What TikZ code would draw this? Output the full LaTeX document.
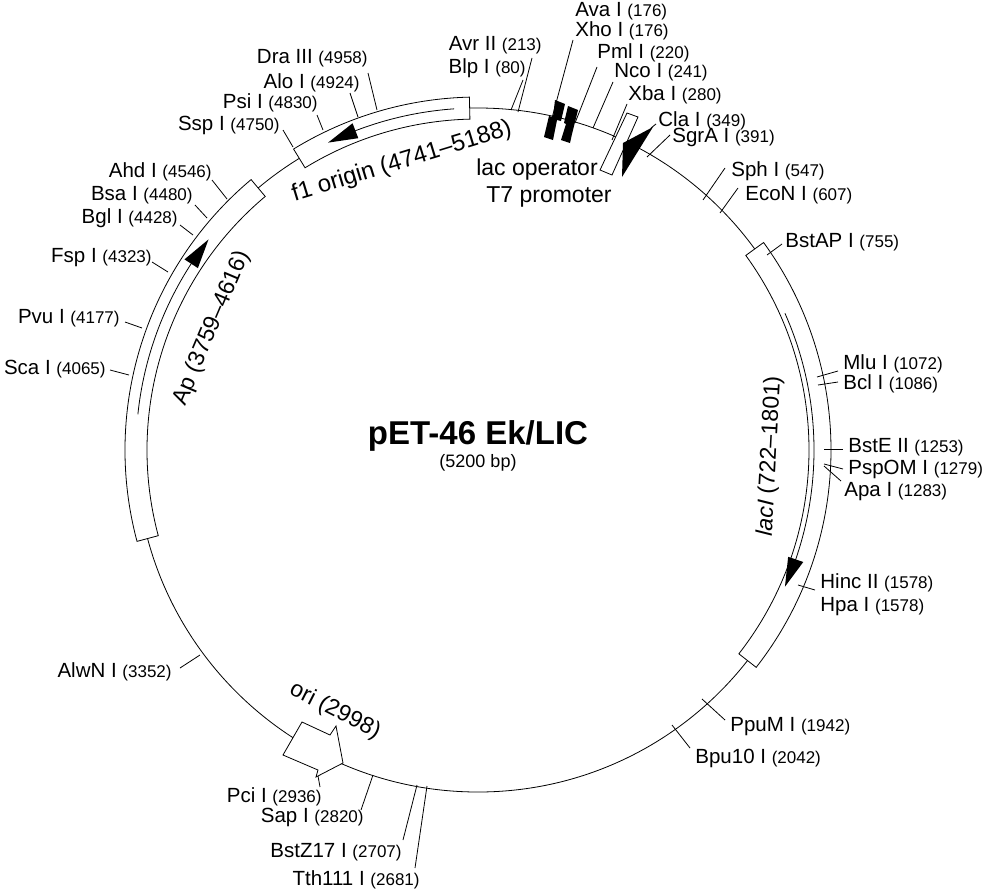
\documentclass[tikz,border=0pt]{standalone}
\usepackage{fontspec}
\setmainfont{Liberation Sans}
\begin{document}
\begin{tikzpicture}[x=1pt,y=-1pt,line width=0.8pt,
  lbl/.style={inner sep=0pt,font=\fontsize{20.5}{21}\selectfont},
  feat/.style={inner sep=0pt,font=\fontsize{23}{24}\selectfont},
  fbox/.style={draw,fill=white,line width=0.8pt}]
\useasboundingbox (0,0) rectangle (987,889);
\newcommand{\nm}[2]{#1 {\fontsize{17}{18}\selectfont(#2)}}
\newcommand{\site}[9]{%
  \coordinate (p#1) at (#2,#3);\coordinate (q#1) at (#4,#5);
  \node[lbl,anchor=#6] (n#1) at (#7,#8) {#9};
  \draw (p#1) -- (q#1);}
\def\R{342}
\begin{scope}[shift={(478,450)}]
  \draw (0,0) circle[radius=\R];
  % lacI box 54 -> 128
  \draw[fbox] (-36:353) arc[start angle=-36,end angle=38,radius=353] -- (38:331) arc[start angle=38,end angle=-36,radius=331] -- cycle;
  \draw (-24:336) arc[start angle=-24,end angle=20,radius=336];
  \fill (24:336) -- (19:328) -- (19:344) -- cycle;
  % Ap box 255 -> 320
  \draw[fbox] (165:353) arc[start angle=165,end angle=230,radius=353] -- (230:331) arc[start angle=230,end angle=165,radius=331] -- cycle;
  \draw (186:\R) arc[start angle=186,end angle=214,radius=\R];
  \fill (218:\R) -- (213:334) -- (213:350) -- cycle;
  % f1 box 328.5 -> 358.6
  \draw[fbox] (238.5:353) arc[start angle=238.5,end angle=268.6,radius=353] -- (268.6:331) arc[start angle=268.6,end angle=238.5,radius=331] -- cycle;
  \draw (266:\R) arc[start angle=266,end angle=248,radius=\R];
  \fill (244:\R) -- (249:334) -- (249:350) -- cycle;
\end{scope}
% ori arrow
\draw[fbox] (302,722) -- (330,735) -- (336,726) -- (343,763) -- (316,777) -- (318,770) -- (283,755) -- cycle;
% top elements
\fill (555,100) -- (565,104) -- (561,121) -- (557,120) -- (553,140) -- (544,137) -- (549,116) -- (553,117) -- cycle;
\fill (568,106) -- (578,110) -- (572,134) -- (570,143) -- (561,140) -- (566,124) -- (564,123) -- cycle;
\draw[fbox] (627,113) -- (638,117) -- (612,175) -- (600,170) -- cycle;
\fill (653,127) -- (623,143) -- (622,177) -- cycle;
% sites
\site{blp}{511}{110}{523}{80}{east}{526}{68}{\nm{Blp I}{80}}
\site{avr}{518}{112}{532}{58}{east}{542}{45}{\nm{Avr II}{213}}
\site{xho}{552}{118}{573}{40}{west}{575}{31}{\nm{Xho I}{176}}
\node[lbl,anchor=west] (nava) at (575,11) {\nm{Ava I}{176}};
\site{pml}{575}{123}{597}{67}{west}{597}{53}{\nm{Pml I}{220}}
\site{nco}{593}{128}{613}{82}{west}{614}{72}{\nm{Nco I}{241}}
\site{xba}{612}{140}{627}{104}{west}{628}{95}{\nm{Xba I}{280}}
\site{cla}{651}{128}{656}{124}{west}{658}{121}{\nm{Cla I}{349}}
\site{sgr}{647}{157}{670}{135}{west}{672}{137}{\nm{SgrA I}{391}}
\site{sph}{703}{200}{725}{168}{west}{731}{171}{\nm{Sph I}{547}}
\site{eco}{720}{213}{738}{188}{west}{745}{195}{\nm{EcoN I}{607}}
\site{bap}{767}{255}{782}{244}{west}{785}{242}{\nm{BstAP I}{755}}
\site{mlu}{817}{377}{838}{371}{west}{843}{364}{\nm{Mlu I}{1072}}
\site{bcl}{818}{385}{838}{382}{west}{843}{384}{\nm{Bcl I}{1086}}
\site{bse}{824}{449}{843}{449}{west}{848}{447}{\nm{BstE II}{1253}}
\site{psp}{824}{464}{843}{469}{west}{848}{469}{\nm{PspOM I}{1279}}
\site{apa}{824}{466}{841}{481}{west}{844}{492}{\nm{Apa I}{1283}}
\site{hin}{798}{585}{815}{590}{west}{820}{583}{\nm{Hinc II}{1578}}
\node[lbl,anchor=west] (nhpa) at (820,607) {\nm{Hpa I}{1578}};
\site{ppu}{702}{699}{725}{720}{west}{730}{727}{\nm{PpuM I}{1942}}
\site{bpu}{672}{725}{690}{748}{west}{695}{758}{\nm{Bpu10 I}{2042}}
\site{tth}{427}{786}{415}{868}{east}{420}{880}{\nm{Tth111 I}{2681}}
\site{bz}{417}{785}{403}{840}{east}{402}{852}{\nm{BstZ17 I}{2707}}
\site{sap}{373}{775}{361}{810}{east}{364}{817}{\nm{Sap I}{2820}}
\site{pci}{318}{776}{320}{787}{east}{322}{797}{\nm{Pci I}{2936}}
\site{alw}{200}{655}{180}{668}{east}{172}{672}{\nm{AlwN I}{3352}}
\site{sca}{129}{375}{110}{370}{east}{106}{369}{\nm{Sca I}{4065}}
\site{pvu}{142}{328}{125}{322}{east}{120}{318}{\nm{Pvu I}{4177}}
\site{fsp}{168}{272}{152}{262}{east}{152}{258}{\nm{Fsp I}{4323}}
\site{bgl}{193}{235}{180}{225}{east}{178}{218}{\nm{Bgl I}{4428}}
\site{bsa}{207}{218}{195}{205}{east}{193}{195}{\nm{Bsa I}{4480}}
\site{ahd}{227}{199}{212}{180}{east}{212}{172}{\nm{Ahd I}{4546}}
\site{ssp}{293}{147}{283}{130}{east}{280}{125}{\nm{Ssp I}{4750}}
\site{psi}{323}{130}{317}{115}{east}{318}{103}{\nm{Psi I}{4830}}
\site{alo}{358}{117}{350}{93}{east}{360}{83}{\nm{Alo I}{4924}}
\site{dra}{377}{110}{368}{73}{east}{368}{58}{\nm{Dra III}{4958}}
% feature labels
\node[feat] (lacop) at (537,170) {lac operator};
\node[feat] (t7) at (549,197) {T7 promoter};
\node[feat,rotate=17,font=\fontsize{24}{25}\selectfont] (f1l) at (402,162) {f1 origin (4741–5188)};
\node[feat,rotate=67] (apl) at (212,328) {Ap (3759–4616)};
\node[feat,rotate=87] (lacl) at (770,456) {\textit{lacI} (722–1801)};
\node[feat,rotate=-27] (oril) at (335,711) {ori (2998)};
\node[inner sep=0pt,font=\bfseries\fontsize{33}{34}\selectfont] (title) at (478,436) {pET-46 Ek/LIC};
\node[inner sep=0pt,font=\fontsize{18}{19}\selectfont] (bp) at (478,463) {(5200 bp)};
\end{tikzpicture}
\end{document}
